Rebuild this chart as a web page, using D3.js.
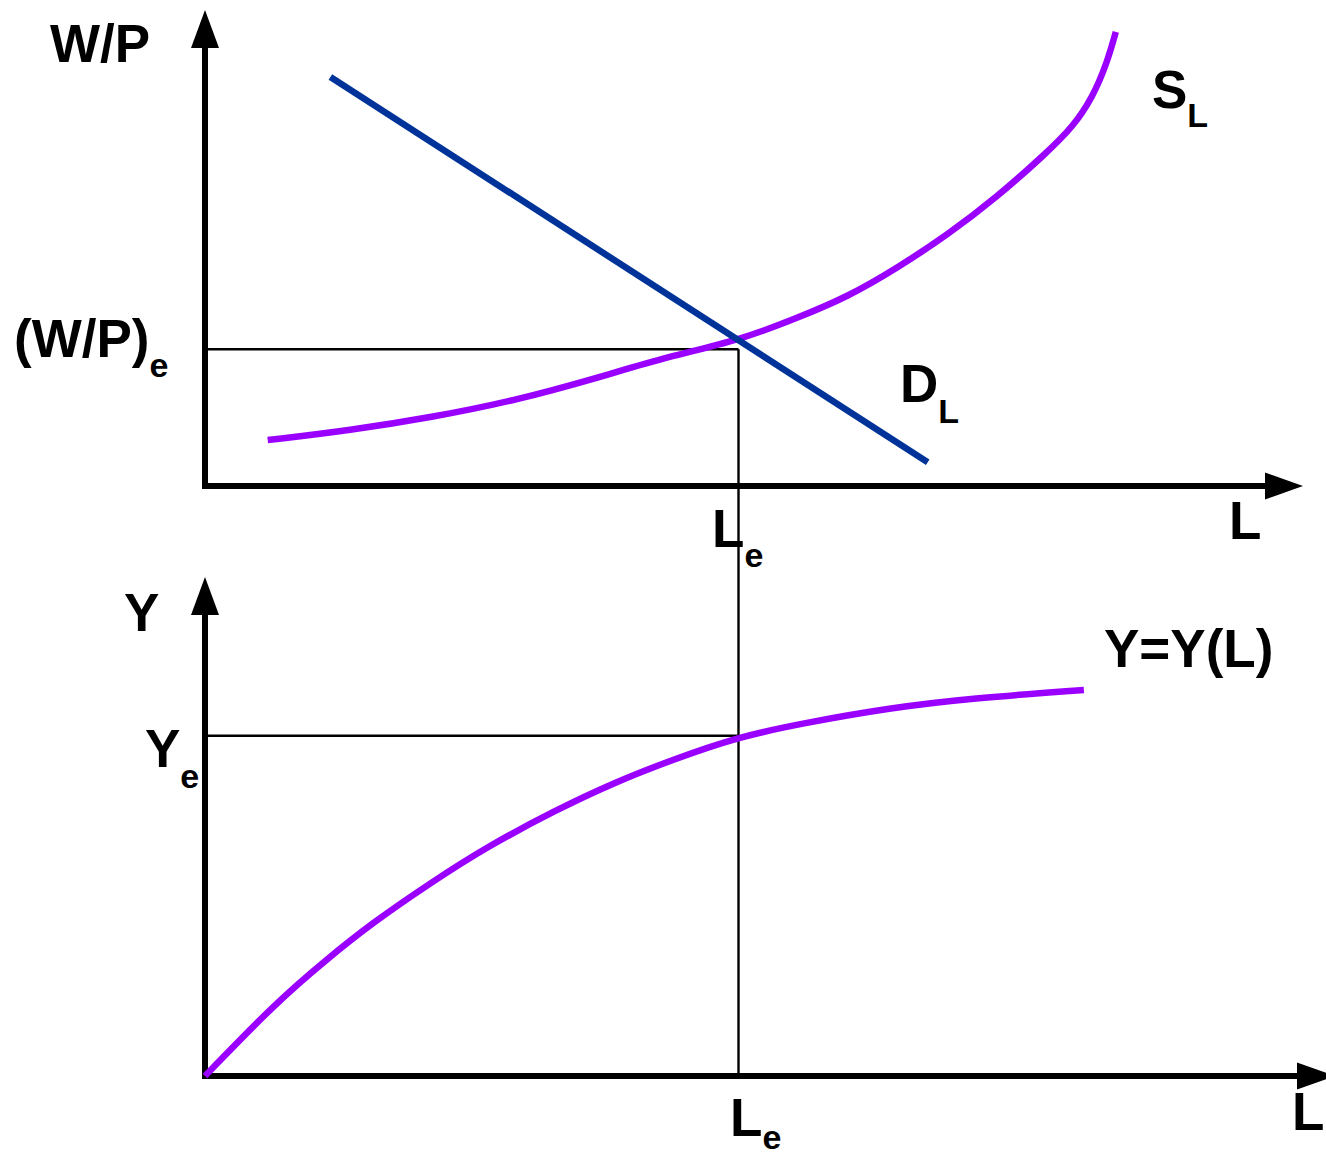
<!DOCTYPE html>
<html>
<head>
<meta charset="utf-8">
<script src="https://cdn.jsdelivr.net/npm/d3@7"></script>
<style>
  html, body { margin: 0; padding: 0; background: #fff; }
  svg { display: block; }
  text { font-family: "Liberation Sans", Arial, sans-serif; font-weight: bold; fill: #000; }
</style>
</head>
<body>
<svg id="chart" width="1326" height="1157"></svg>
<script>
// labour market: [L, W/P]
const supplyCurve = [
  [5.7, 10.2], [13.2, 12.4], [20.7, 15.3], [28.4, 19.1], [35.9, 24.2],
  [42.0, 28.7], [48.6, 32.4], [53.8, 37.3], [58.4, 42.0], [62.9, 48.4],
  [67.5, 55.8], [72.0, 64.2], [76.5, 74.0], [78.9, 79.8], [80.7, 86.4],
  [82.0, 94.0], [82.8, 100.9]
];
const demandCurve = [[11.4, 90.9], [65.7, 5.3]];

// production function: [L, Y]
const productionCurve = [
  [0, 0], [6.4, 16.2], [11.0, 25.8], [15.2, 34.0], [20.5, 42.9],
  [25.6, 50.9], [31.9, 59.1], [37.1, 65.1], [42.4, 70.2], [48.5, 75.4],
  [54.4, 78.4], [62.2, 81.8], [70.0, 84.0], [79.9, 85.8]
];

// equilibrium values
const eqL = 48.5;
const eqWage = 30.4;
const eqY = 75.6;

const purple = "#9900ff";
const navy = "#003399";

const svg = d3.select("#chart");

// shared horizontal scale, one vertical scale per panel
const x = d3.scaleLinear().domain([0, 100]).range([205, 1305]);
const yTop = d3.scaleLinear().domain([0, 100]).range([486, 36]);
const yBot = d3.scaleLinear().domain([0, 100]).range([1076, 626]);

///////////////////////////////////////////////////////////////////////////
// Guide lines
///////////////////////////////////////////////////////////////////////////

const guides = svg.append("g")
    .attr("stroke", "#000")
    .attr("stroke-width", 2.4)
    .attr("fill", "none");

guides.append("line")
    .attr("x1", x(0)).attr("x2", x(eqL))
    .attr("y1", yTop(eqWage)).attr("y2", yTop(eqWage));

guides.append("line")
    .attr("x1", x(eqL)).attr("x2", x(eqL))
    .attr("y1", yTop(eqWage)).attr("y2", yBot(0));

guides.append("line")
    .attr("x1", x(0)).attr("x2", x(eqL))
    .attr("y1", yBot(eqY)).attr("y2", yBot(eqY));

///////////////////////////////////////////////////////////////////////////
// Axes with arrow heads
///////////////////////////////////////////////////////////////////////////

function axisPair(g, yScale, xEnd, yTip) {
    let ox = x(0), oy = yScale(0);
    g.append("line")
        .attr("x1", ox).attr("y1", oy + 3)
        .attr("x2", ox).attr("y2", yTip + 36)
        .attr("stroke", "#000").attr("stroke-width", 6);
    g.append("path")
        .attr("d", `M${ox},${yTip} L${ox - 14},${yTip + 38} L${ox + 14},${yTip + 38} Z`)
        .attr("fill", "#000");
    g.append("line")
        .attr("x1", ox - 3).attr("y1", oy)
        .attr("x2", xEnd - 36).attr("y2", oy)
        .attr("stroke", "#000").attr("stroke-width", 6);
    g.append("path")
        .attr("d", `M${xEnd},${oy} L${xEnd - 38},${oy - 13.5} L${xEnd - 38},${oy + 13.5} Z`)
        .attr("fill", "#000");
}

axisPair(svg.append("g"), yTop, 1303, 10);
axisPair(svg.append("g"), yBot, 1335, 577);

///////////////////////////////////////////////////////////////////////////
// Curves
///////////////////////////////////////////////////////////////////////////

// basis spline smooths out small reading errors in the points
const lineTop = d3.line()
    .x(d => x(d[0]))
    .y(d => yTop(d[1]))
    .curve(d3.curveBasis);

const lineBot = d3.line()
    .x(d => x(d[0]))
    .y(d => yBot(d[1]))
    .curve(d3.curveBasis);

svg.append("path")
    .datum(supplyCurve)
    .attr("d", lineTop)
    .attr("fill", "none")
    .attr("stroke", purple)
    .attr("stroke-width", 6.5);

svg.append("path")
    .datum(demandCurve)
    .attr("d", d3.line().x(d => x(d[0])).y(d => yTop(d[1])))
    .attr("fill", "none")
    .attr("stroke", navy)
    .attr("stroke-width", 6.5);

svg.append("path")
    .datum(productionCurve)
    .attr("d", lineBot)
    .attr("fill", "none")
    .attr("stroke", purple)
    .attr("stroke-width", 6.5);

///////////////////////////////////////////////////////////////////////////
// Labels
///////////////////////////////////////////////////////////////////////////

function label(px, py, main, sub, subDy) {
    let t = svg.append("text")
        .attr("x", px).attr("y", py)
        .attr("font-size", 53);
    t.append("tspan").text(main);
    if (sub) {
        t.append("tspan")
            .attr("dy", subDy)
            .attr("font-size", 34)
            .text(sub);
    }
    return t;
}

label(50, 62, "W/P");
label(14, 357, "(W/P)", "e", 20);
label(1152, 108, "S", "L", 19);
label(900, 402, "D", "L", 21);
label(1229, 539, "L");
label(712, 547, "L", "e", 20);

label(124, 631, "Y");
label(145, 767, "Y", "e", 21);
label(1104, 667, "Y=Y(L)");
label(730, 1136, "L", "e", 13);
label(1292, 1130, "L");
</script>
</body>
</html>
